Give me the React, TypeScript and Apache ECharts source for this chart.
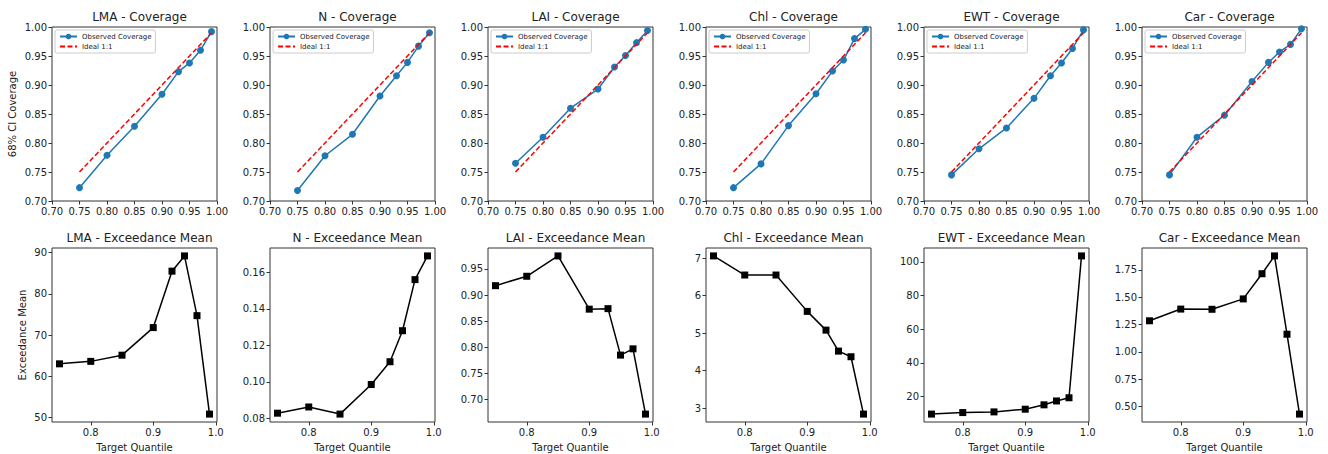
import React, { useEffect, useRef } from "react";
import * as echarts from "echarts";

// Target quantiles shared by every panel
const quantiles = [0.75, 0.8, 0.85, 0.9, 0.93, 0.95, 0.97, 0.99];
const traits = ["LMA", "N", "LAI", "Chl", "EWT", "Car"];

// Observed 68% CI coverage per trait
const coverageLMA = [0.723, 0.779, 0.829, 0.884, 0.923, 0.938, 0.96, 0.992];
const coverageN = [0.718, 0.778, 0.815, 0.881, 0.916, 0.939, 0.967, 0.99];
const coverageLAI = [0.765, 0.81, 0.86, 0.893, 0.931, 0.951, 0.973, 0.994];
const coverageChl = [0.723, 0.764, 0.83, 0.885, 0.924, 0.943, 0.98, 0.996];
const coverageEWT = [0.745, 0.79, 0.826, 0.877, 0.916, 0.938, 0.963, 0.995];
const coverageCar = [0.745, 0.81, 0.848, 0.906, 0.939, 0.957, 0.97, 0.997];

// Mean exceedance per trait
const exceedLMA = [63.0, 63.6, 65.1, 71.8, 85.5, 89.2, 74.7, 50.8];
const exceedN = [0.0828, 0.0862, 0.0823, 0.0985, 0.111, 0.128, 0.156, 0.169];
const exceedLAI = [0.918, 0.936, 0.975, 0.873, 0.874, 0.785, 0.797, 0.672];
const exceedChl = [7.06, 6.55, 6.55, 5.58, 5.08, 4.52, 4.37, 2.84];
const exceedEWT = [9.5, 10.4, 10.8, 12.4, 15.0, 17.3, 19.2, 103.5];
const exceedCar = [1.285, 1.392, 1.39, 1.485, 1.715, 1.878, 1.162, 0.432];

// Ideal 1:1 reference line end points
const idealLine = [0.75, 0.99];

// Tick labels
const quantileTicks = [0.8, 0.9, 1.0];
const ticksLMA = [50, 60, 70, 80, 90];
const ticksN = [0.08, 0.1, 0.12, 0.14, 0.16];
const ticksLAI = [0.7, 0.75, 0.8, 0.85, 0.9, 0.95];
const ticksChl = [3, 4, 5, 6, 7];
const ticksEWT = [20, 40, 60, 80, 100];
const ticksCar = [0.5, 0.75, 1.0, 1.25, 1.5, 1.75];
const tickDecimals = [0, 2, 2, 0, 0, 2];

const coverage = [coverageLMA, coverageN, coverageLAI, coverageChl, coverageEWT, coverageCar];
const exceed = [exceedLMA, exceedN, exceedLAI, exceedChl, exceedEWT, exceedCar];
const exceedTicks = [ticksLMA, ticksN, ticksLAI, ticksChl, ticksEWT, ticksCar];

const FONT = "DejaVu Sans";
const INK = "#222";
const FRAME = "#333";
const BLUE = "#1f77b4";

const COL_LEFT = 52;
const COL_STEP = 218;
const PANEL_W = 165;
const TOP_ROW = 27;
const BOTTOM_ROW = 248;
const PANEL_H = 174;

export default function App() {
  const ref = useRef<HTMLDivElement>(null);

  useEffect(() => {
    if (!ref.current) return;
    const chart = echarts.init(ref.current, null, { renderer: "svg" });

    const grids: any[] = [];
    const xAxes: any[] = [];
    const yAxes: any[] = [];
    const series: any[] = [];
    const titles: any[] = [];
    const legends: any[] = [];

    const tickStyle = { show: true, inside: false, length: 3.5, lineStyle: { color: FRAME, width: 1 } };
    const labelStyle = { fontFamily: FONT, fontSize: 10, color: INK, margin: 5 };

    traits.forEach((trait, i) => {
      const left = COL_LEFT + i * COL_STEP;
      const cx = left + PANEL_W / 2;

      // Coverage panel (top row)
      const gTop = grids.length;
      grids.push({ left, top: TOP_ROW, width: PANEL_W, height: PANEL_H, show: true, borderColor: FRAME, borderWidth: 1, backgroundColor: "transparent" });
      xAxes.push({
        type: "value", gridIndex: gTop, min: 0.7, max: 1.0, interval: 0.05,
        axisLine: { show: false }, splitLine: { show: false }, axisTick: tickStyle,
        axisLabel: { ...labelStyle, formatter: (v: number) => v.toFixed(2) },
      });
      yAxes.push({
        type: "value", gridIndex: gTop, min: 0.7, max: 1.0, interval: 0.05,
        axisLine: { show: false }, splitLine: { show: false }, axisTick: tickStyle,
        axisLabel: { ...labelStyle, formatter: (v: number) => v.toFixed(2) },
        name: i === 0 ? "68% CI Coverage" : "",
        nameLocation: "middle", nameRotate: 90, nameGap: 35,
        nameTextStyle: { fontFamily: FONT, fontSize: 10, color: INK },
      });
      series.push({
        type: "line", name: "Observed Coverage", xAxisIndex: gTop, yAxisIndex: gTop,
        data: quantiles.map((q, k) => [q, coverage[i][k]]),
        symbol: "circle", symbolSize: 7,
        lineStyle: { color: BLUE, width: 1.5 }, itemStyle: { color: BLUE },
        z: 2,
      });
      series.push({
        type: "line", name: "Ideal 1:1", xAxisIndex: gTop, yAxisIndex: gTop,
        data: idealLine.map((v) => [v, v]),
        symbol: "none",
        lineStyle: { color: "#ff0000", width: 1.5, type: [5, 2.5] }, itemStyle: { color: "#ff0000" },
        z: 3,
      });
      titles.push({
        text: `${trait} - Coverage`, left: cx, top: 6, textAlign: "center",
        textStyle: { fontFamily: FONT, fontSize: 12, fontWeight: "normal", color: INK },
      });
      legends.push({
        data: [
          { name: "Observed Coverage" },
          { name: "Ideal 1:1", itemStyle: { opacity: 0 } },
        ],
        orient: "vertical", left: left + 3, top: TOP_ROW + 3,
        itemWidth: 17, itemHeight: 7, itemGap: 3, padding: [3, 4, 3, 4],
        backgroundColor: "#fff", borderColor: "#ccc", borderWidth: 1, borderRadius: 2,
        textStyle: { fontFamily: FONT, fontSize: 7, color: INK },
        selectedMode: false,
      });

      // Exceedance mean panel (bottom row)
      const gBot = grids.length;
      grids.push({ left, top: BOTTOM_ROW, width: PANEL_W, height: PANEL_H, show: true, borderColor: FRAME, borderWidth: 1, backgroundColor: "transparent" });
      xAxes.push({
        type: "value", gridIndex: gBot,
        min: (e: any) => e.min - 0.05 * (e.max - e.min),
        max: (e: any) => e.max + 0.05 * (e.max - e.min),
        axisLine: { show: false }, splitLine: { show: false },
        axisTick: { ...tickStyle, customValues: quantileTicks },
        axisLabel: { ...labelStyle, customValues: quantileTicks, formatter: (v: number) => v.toFixed(1) },
        name: "Target Quantile", nameLocation: "middle", nameGap: 20,
        nameTextStyle: { fontFamily: FONT, fontSize: 10, color: INK },
      });
      const dec = tickDecimals[i];
      yAxes.push({
        type: "value", gridIndex: gBot,
        min: (e: any) => e.min - 0.05 * (e.max - e.min),
        max: (e: any) => e.max + 0.05 * (e.max - e.min),
        axisLine: { show: false }, splitLine: { show: false },
        axisTick: { ...tickStyle, customValues: exceedTicks[i] },
        axisLabel: { ...labelStyle, customValues: exceedTicks[i], formatter: (v: number) => v.toFixed(dec) },
        name: i === 0 ? "Exceedance Mean" : "",
        nameLocation: "middle", nameRotate: 90, nameGap: 25,
        nameTextStyle: { fontFamily: FONT, fontSize: 10, color: INK },
      });
      series.push({
        type: "line", name: `${trait} exceedance`, xAxisIndex: gBot, yAxisIndex: gBot,
        data: quantiles.map((q, k) => [q, exceed[i][k]]),
        symbol: "rect", symbolSize: 7,
        lineStyle: { color: "#000", width: 1.5 }, itemStyle: { color: "#000" },
      });
      titles.push({
        text: `${trait} - Exceedance Mean`, left: cx, top: 227, textAlign: "center",
        textStyle: { fontFamily: FONT, fontSize: 12, fontWeight: "normal", color: INK },
      });
    });

    chart.setOption({
      animation: false,
      backgroundColor: "#fff",
      title: titles,
      legend: legends,
      grid: grids,
      xAxis: xAxes,
      yAxis: yAxes,
      series,
    });

    return () => chart.dispose();
  }, []);

  return (
    <div
      ref={ref}
      style={{ position: "fixed", left: 0, top: 0, width: 1328, height: 454 }}
    />
  );
}
